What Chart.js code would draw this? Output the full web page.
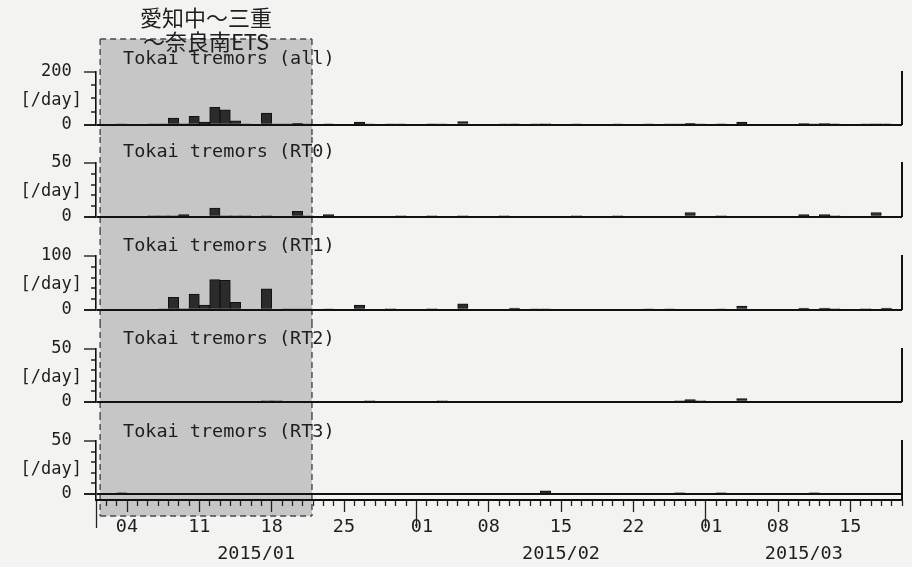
<!DOCTYPE html>
<html>
<head>
<meta charset="utf-8">
<script src="https://cdn.jsdelivr.net/npm/chart.js@4.4.1/dist/chart.umd.min.js"></script>
<style>
  html, body { margin: 0; padding: 0; background: #f3f3f1; }
  #wrap { position: relative; width: 912px; height: 567px; overflow: hidden; }
  #wrap canvas { position: absolute; left: 0; }
</style>
</head>
<body>
<div id="wrap"></div>
<script>
// daily tremor counts, index 0 = 2015/01/01 ... index 77 = 2015/03/19
const allCounts = [
  0, 0, 1, 0, 0, 1, 3, 25, 4, 32,
  10, 66, 57, 15, 1, 0, 44, 1, 1, 6,
  2, 0, 3, 0, 0, 10, 1, 0, 2, 1,
  0, 0, 3, 1, 0, 12, 0, 0, 0, 1,
  3, 0, 1, 4, 0, 0, 1, 0, 0, 0,
  1, 0, 0, 1, 0, 1, 2, 6, 1, 0,
  3, 0, 10, 0, 0, 0, 0, 0, 5, 1,
  5, 3, 0, 0, 2, 4, 3, 0
];
const rt0Counts = [
  0, 0, 0, 0, 0, 1, 1, 1, 2, 0,
  0, 8, 1, 1, 1, 0, 1, 0, 0, 5,
  1, 0, 2, 0, 0, 0, 0, 0, 0, 1,
  0, 0, 1, 0, 0, 1, 0, 0, 0, 1,
  0, 0, 0, 0, 0, 0, 1, 0, 0, 0,
  1, 0, 0, 0, 0, 0, 0, 4, 0, 0,
  1, 0, 0, 0, 0, 0, 0, 0, 2, 0,
  2, 1, 0, 0, 0, 4, 0, 0
];
const rt1Counts = [
  0, 0, 0, 0, 0, 0, 1, 23, 2, 29,
  9, 56, 55, 14, 0, 0, 39, 0, 1, 1,
  1, 0, 1, 0, 0, 9, 0, 0, 2, 0,
  0, 0, 2, 0, 0, 11, 0, 0, 0, 0,
  3, 0, 1, 1, 0, 0, 0, 0, 0, 0,
  0, 0, 0, 1, 0, 1, 0, 0, 0, 0,
  1, 0, 7, 0, 0, 0, 0, 0, 3, 0,
  3, 2, 0, 0, 2, 0, 3, 0
];
const rt2Counts = [
  0, 0, 0, 0, 0, 0, 0, 0, 0, 0,
  0, 0, 0, 0, 0, 0, 1, 1, 0, 0,
  0, 0, 0, 0, 0, 0, 1, 0, 0, 0,
  0, 0, 0, 1, 0, 0, 0, 0, 0, 0,
  0, 0, 0, 0, 0, 0, 0, 0, 0, 0,
  0, 0, 0, 0, 0, 0, 1, 2, 1, 0,
  0, 0, 3, 0, 0, 0, 0, 0, 0, 0,
  0, 0, 0, 0, 0, 0, 0, 0
];
const rt3Counts = [
  0, 0, 1, 0, 0, 0, 0, 0, 0, 0,
  0, 0, 0, 0, 0, 0, 0, 0, 0, 0,
  0, 0, 0, 0, 0, 0, 0, 0, 0, 0,
  0, 0, 0, 0, 0, 0, 0, 0, 0, 0,
  0, 0, 0, 3, 0, 0, 0, 0, 0, 0,
  0, 0, 0, 0, 0, 0, 1, 0, 0, 0,
  1, 0, 0, 0, 0, 0, 0, 0, 0, 1,
  0, 0, 0, 0, 0, 0, 0, 0
];

const panelTitles = ['Tokai tremors (all)', 'Tokai tremors (RT0)', 'Tokai tremors (RT1)',
                     'Tokai tremors (RT2)', 'Tokai tremors (RT3)'];
const panelSeries = [allCounts, rt0Counts, rt1Counts, rt2Counts, rt3Counts];
const panelTop = [200, 50, 100, 50, 50];
const panelMinor = [50, 10, 20, 10, 10];

const DAYS = 78;
const weekDays = [3, 10, 17, 24, 31, 38, 45, 52, 59, 66, 73];
const weekLabels = ['04', '11', '18', '25', ' 01', '08', '15', '22', ' 01', '08', '15'];
const monthStarts = [0, 31, 59];
const monthLabels = ['2015/01', '2015/02', '2015/03'];
const monthCentres = [15.5, 45, 68.5];

const etsPeriod = [0.4, 20.9];
const etsName = ['愛知中～三重', '～奈良南ETS'];

// page layout of the stacked panels
const canvasTop = [0, 137, 229, 322, 414];
const canvasHeight = [137, 92, 93, 92, 153];
const padTop = [72, 26, 27, 27, 27];
const titleGap = [8, 6, 5, 5, 4];

const INK = '#1e1e1e';
const MONO = '"DejaVu Sans Mono", monospace';

const tv = c => (c && c.tick ? c.tick.value : NaN);

const etsBox = {
  id: 'etsBox',
  beforeDraw(chart, args, opts) {
    const {ctx} = chart;
    const x = chart.scales.x;
    const x0 = x.getPixelForValue(etsPeriod[0]);
    const x1 = x.getPixelForValue(etsPeriod[1]);
    const y0 = opts.top != null ? opts.top : 0;
    const y1 = opts.bottom != null ? opts.bottom : chart.height;
    ctx.save();
    ctx.fillStyle = '#c6c6c6';
    ctx.fillRect(x0, y0, x1 - x0, y1 - y0);
    ctx.strokeStyle = '#4a4a4a';
    ctx.lineWidth = 1.4;
    ctx.setLineDash([6, 4]);
    ctx.beginPath();
    ctx.moveTo(x0, y0); ctx.lineTo(x0, y1);
    ctx.moveTo(x1, y0); ctx.lineTo(x1, y1);
    if (opts.top != null) { ctx.moveTo(x0, y0); ctx.lineTo(x1, y0); }
    if (opts.bottom != null) { ctx.moveTo(x0, y1); ctx.lineTo(x1, y1); }
    ctx.stroke();
    ctx.restore();
  },
  afterDraw(chart, args, opts) {
    if (!opts.header) return;
    const {ctx} = chart;
    const x = chart.scales.x;
    const cx = (x.getPixelForValue(etsPeriod[0]) + x.getPixelForValue(etsPeriod[1])) / 2;
    ctx.save();
    ctx.font = '22px "Noto Sans CJK JP"';
    ctx.fillStyle = INK;
    ctx.textAlign = 'center';
    ctx.textBaseline = 'middle';
    opts.header.forEach((line, k) => ctx.fillText(line, cx, opts.headerY[k]));
    ctx.restore();
  }
};

const panelText = {
  id: 'panelText',
  afterDraw(chart, args, opts) {
    const {ctx, chartArea} = chart;
    ctx.save();
    ctx.font = '18.5px ' + MONO;
    ctx.fillStyle = INK;
    ctx.textBaseline = 'alphabetic';
    ctx.fillText(opts.text, chartArea.left + 27, chartArea.top - opts.gap);
    ctx.restore();
  }
};

function makePanel(i) {
  const isFirst = i === 0;
  const isLast = i === panelSeries.length - 1;
  const canvas = document.createElement('canvas');
  canvas.width = 912;
  canvas.height = canvasHeight[i];
  canvas.style.top = canvasTop[i] + 'px';
  document.getElementById('wrap').appendChild(canvas);

  const top = panelTop[i];
  const minor = panelMinor[i];
  const labelVal = Math.round(top * 0.46);
  const yTicks = [labelVal];
  for (let v = 0; v <= top; v += minor) yTicks.push(v);
  yTicks.sort((a, b) => a - b);

  const xScale = isLast ? {
    type: 'linear', min: 0, max: DAYS, position: 'bottom', weight: 0, offset: false,
    afterBuildTicks: s => { s.ticks = Array.from({length: DAYS + 1}, (_, d) => ({value: d})); },
    afterFit: s => { s.height = 34; },
    ticks: {
      autoSkip: false, maxRotation: 0, padding: -12, color: INK,
      font: {family: MONO, size: 18.5},
      callback: v => { const k = weekDays.indexOf(v); return k >= 0 ? weekLabels[k] : ''; }
    },
    grid: {
      offset: false, drawOnChartArea: false, tickLength: 28, tickColor: '#222', tickWidth: 1.3,
      tickBorderDash: c => monthStarts.includes(tv(c)) ? [] :
        weekDays.includes(tv(c)) ? [11, 100] : [5, 100]
    },
    border: {color: '#111', width: 2}
  } : {
    type: 'linear', min: 0, max: DAYS, position: 'bottom', offset: false,
    afterFit: s => { s.height = 0; },
    ticks: {display: false},
    grid: {display: false, drawTicks: false, offset: false},
    border: {display: false}
  };

  const scales = {
    x: xScale,
    y: {
      min: isLast ? -top * 6 / 53 : 0, max: top,
      afterBuildTicks: s => { s.ticks = yTicks.map(v => ({value: v})); },
      afterFit: s => { s.width = 96; },
      ticks: {
        autoSkip: false, padding: 2, color: INK,
        font: {family: MONO, size: 17},
        callback: v => v === 0 ? '0 ' : v === top ? top + ' ' : v === labelVal ? '[/day]' : ''
      },
      grid: {
        color: c => tv(c) === 0 ? '#111' : 'transparent',
        lineWidth: 2,
        tickLength: 12,
        tickColor: c => tv(c) % minor === 0 ? '#222' : 'transparent',
        tickWidth: c => tv(c) === 0 ? 2 : 1.4,
        tickBorderDash: c => (tv(c) === 0 || tv(c) === top) ? [] : [0, 7, 5, 100]
      },
      border: {color: '#111', width: 1.6}
    },
    yr: {
      position: 'right', min: 0, max: 1,
      afterFit: s => { s.width = 0; },
      ticks: {display: false},
      grid: {display: false, drawTicks: false},
      border: {display: true, color: '#111', width: 2}
    }
  };
  if (isLast) {
    scales.xm = {
      type: 'linear', min: 0, max: DAYS, position: 'bottom', weight: 1, offset: false,
      afterBuildTicks: s => { s.ticks = monthCentres.map(v => ({value: v})); },
      afterFit: s => { s.height = 26; },
      ticks: {
        autoSkip: false, maxRotation: 0, padding: 9, color: INK,
        font: {family: MONO, size: 18.5},
        callback: (v, k) => monthLabels[k]
      },
      grid: {display: false, drawTicks: false},
      border: {display: false}
    };
  }

  new Chart(canvas, {
    type: 'bar',
    data: {
      datasets: [{
        data: panelSeries[i].map((v, d) => ({x: d + 0.5, y: v})),
        backgroundColor: '#2b2b2b',
        borderColor: '#111',
        borderWidth: 1,
        barPercentage: 1,
        categoryPercentage: 1,
        xAxisID: 'x',
        yAxisID: 'y'
      }]
    },
    options: {
      responsive: false,
      devicePixelRatio: 1,
      animation: false,
      layout: {padding: {top: padTop[i], bottom: isLast ? 7 : 12, left: 0, right: 10}},
      scales: scales,
      plugins: {
        legend: {display: false},
        tooltip: {enabled: false},
        etsBox: {
          top: isFirst ? 39 : null,
          bottom: isLast ? 102 : null,
          header: isFirst ? etsName : null,
          headerY: [18, 42]
        },
        panelText: {text: panelTitles[i], gap: titleGap[i]}
      }
    },
    plugins: [etsBox, panelText]
  });
}

for (let i = 0; i < panelSeries.length; i++) makePanel(i);
</script>
</body>
</html>
